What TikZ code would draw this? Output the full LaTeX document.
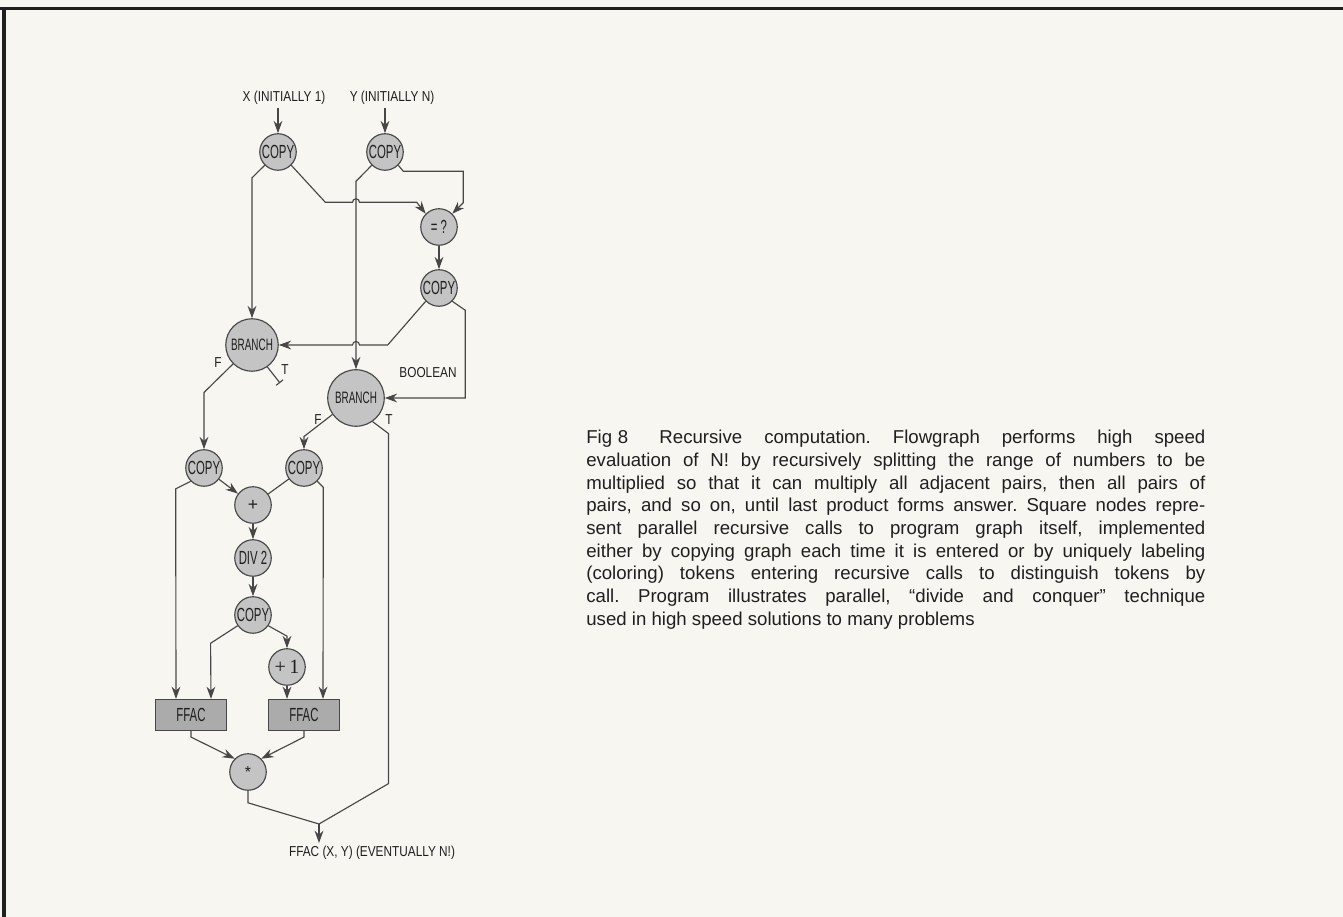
\documentclass[tikz,border=0pt]{standalone}
\usepackage{fontspec}
\setmainfont{Liberation Sans}
\newfontfamily\condfont[FakeStretch=0.6]{Liberation Sans}
\newfontfamily\lblfont[FakeStretch=0.82]{Liberation Sans}
\newfontfamily\serfont{Liberation Serif}
\usepackage{xcolor}
\usepackage{tikz}
\usetikzlibrary{calc,arrows.meta}
\definecolor{paper}{HTML}{F8F6F0}
\definecolor{ink}{HTML}{1F1F1F}
\definecolor{linegray}{HTML}{474747}
\definecolor{opfill}{HTML}{C4C4C4}
\definecolor{callfill}{HTML}{ABABAB}

\tikzset{
  opnode/.style={circle, fill=opfill, draw=linegray, line width=0.65pt, minimum size=7.3mm, inner sep=0pt, font=\condfont\fontsize{10.8}{12}\selectfont\color{ink}},
  branchnode/.style={opnode, font=\condfont\fontsize{9.4}{10}\selectfont\color{ink}},
  callbox/.style={rectangle, fill=callfill, draw=linegray, line width=0.65pt, minimum width=14.2mm, minimum height=6.2mm, inner sep=0pt, font=\condfont\fontsize{10.8}{12}\selectfont\color{ink}},
  tagtext/.style={font=\lblfont\fontsize{8.2}{10}\selectfont\color{ink}, inner sep=0.6mm},
  flow/.style={draw=linegray, line width=0.65pt, -{Stealth[length=7pt, width=5pt]}},
  plainline/.style={draw=linegray, line width=0.65pt},
}

\begin{document}
\begin{tikzpicture}

\useasboundingbox (0,0) rectangle (268.6mm,-183.4mm);
\fill[paper] (0,0) rectangle (268.6mm,-183.4mm);

% Frame
\draw[ink, line width=0.6mm] (0,-1.8mm) -- (268.6mm,-1.8mm);
\draw[ink, line width=0.6mm] (0.8mm,-1.5mm) -- (0.8mm,-183.4mm);

% Inputs
\node[tagtext] (labx) at (56.8mm, -19.6mm) {X (INITIALLY 1)};
\node[tagtext] (laby) at (78.4mm, -19.6mm) {Y (INITIALLY N)};

% Test part
\node[opnode] (copyx) at (55.6mm, -30.4mm) {COPY};
\node[opnode] (copyy) at (77.0mm, -30.4mm) {COPY};
\node[opnode] (eq) at (87.8mm, -45.4mm) {=\,?};
\node[opnode] (copyb) at (87.8mm, -57.6mm) {COPY};
\node[branchnode, minimum size=10.5mm] (branchx) at (50.4mm, -69.0mm) {BRANCH};
\node[branchnode, minimum size=11.3mm] (branchy) at (71.2mm, -79.6mm) {BRANCH};

% Split part
\node[opnode] (copyf) at (40.8mm, -93.6mm) {COPY};
\node[opnode] (copys) at (60.8mm, -93.6mm) {COPY};
\node[opnode, font=\fontsize{10}{12}\selectfont\color{ink}] (plus) at (50.6mm, -101.0mm) {+};
\node[opnode] (div) at (50.6mm, -111.6mm) {DIV 2};
\node[opnode] (copym) at (50.6mm, -123.0mm) {COPY};
\node[opnode, font=\serfont\fontsize{11.5}{12}\selectfont\color{ink}] (inc) at (57.4mm, -133.4mm) {+\,1};

% Recursive calls
\node[callbox] (ffacl) at (38.2mm, -143.0mm) {FFAC};
\node[callbox] (ffacr) at (60.8mm, -143.0mm) {FFAC};
\node[opnode, font=\fontsize{9}{10}\selectfont\color{ink}] (mult) at (49.6mm, -154.4mm) {*};

% Output
\coordinate (merge) at (63.8mm, -164.8mm);
\coordinate (tstop) at (56.0mm, -76.6mm);
\node[tagtext, anchor=north] (outlab) at (74.4mm, -168.6mm) {FFAC (X, Y) (EVENTUALLY N!)};

% Branch labels
\node[tagtext] at (43.6mm, -72.6mm) {F};
\node[tagtext] at (57.0mm, -74.0mm) {T};
\node[tagtext] at (63.6mm, -84.0mm) {F};
\node[tagtext] at (77.8mm, -84.0mm) {T};
\node[tagtext] at (85.6mm, -74.6mm) {BOOLEAN};

% Arrows
\draw[flow] (labx.south -| copyx) -- (copyx);
\draw[flow] (laby.south -| copyy) -- (copyy);
\draw[flow] (copyx.225) -- ([yshift=-2.5mm]copyx.225 -| branchx.north) -- (branchx.north);
\draw[flow] (copyx.-45) -- ++(6.8mm,-7.4mm) coordinate (hx) -- ([xshift=-0.7mm]hx -| branchy.north) arc[start angle=180, end angle=0, radius=0.7mm] -- ([xshift=-1.8mm]eq.135 |- hx) -- (eq.135);
\draw[flow] (copyy.225) -- ([yshift=-3.2mm]copyy.225 -| branchy.north) -- (branchy.north);
\draw[flow] (copyy.-45) -- ++(1mm,-1.2mm) -| ([xshift=2.2mm, yshift=2.2mm]eq.45) -- (eq.45);
\draw[flow] (eq) -- (copyb);
\draw[flow] (copyb.225) -- ([xshift=-7.6mm]copyb.225 |- branchx.east) -- ([xshift=0.7mm]branchy.north |- branchx.east) arc[start angle=0, end angle=180, radius=0.7mm] -- (branchx.east);
\draw[flow] (copyb.-45) -- ++(2.6mm,-1.8mm) |- (branchy.east);

% Branch outputs
\draw[plainline, -{Bar[width=5pt]}] (branchx.-55) -- (tstop);
\draw[flow] (branchx.225) -- ([yshift=-5.7mm]branchx.225 -| copyf.north) -- (copyf.north);
\draw[flow] (branchy.215) -- ([yshift=-4.4mm]branchy.215 -| copys.north) -- (copys.north);
\draw[plainline] (branchy.-55) -- ++(3.2mm,-2.4mm) -- ++(0,-70mm) -- (merge);

% Split arrows
\draw[flow] (copyf) -- (plus);
\draw[plainline] (copys) -- (plus);
\draw[flow] (plus) -- (div);
\draw[flow] (div) -- (copym);
\draw[flow] (copyf.225) -- ++(-3mm,-1.5mm) -- ([xshift=-3mm]ffacl.north);
\draw[flow] (copys.-45) -- ++(1.2mm,-1.2mm) -- ([xshift=3.8mm]ffacr.north);
\draw[flow] (copym.215) -- ++(-5.4mm,-3.5mm) -- ([xshift=4mm]ffacl.north);
\draw[flow] (copym.-35) -- ([yshift=2.4mm]inc.north) -- (inc.north);
\draw[flow] (inc) -- (inc.south |- ffacr.north);

% Product
\draw[flow] (ffacl.south) -- ++(0,-1.2mm) -- (mult.135);
\draw[flow] (ffacr.south) -- ++(0,-1.2mm) -- (mult.45);
\draw[plainline] (mult.south) -- ++(0,-2.4mm) -- (merge);
\draw[flow] (merge) -- (merge |- outlab.north);

% Caption
\node[anchor=north west, inner sep=0pt, text width=123.8mm, align=justify, font=\fontsize{10.6}{12.9}\selectfont\frenchspacing\color{ink}] (caption) at (117.2mm, -86.0mm) {Fig\kern0.3em 8\kern0.5em\ Recursive computation. Flowgraph performs high speed\linebreak evaluation of N! by recursively splitting the range of numbers to be\linebreak multiplied so that it can multiply all adjacent pairs, then all pairs of\linebreak pairs, and so on, until last product forms answer. Square nodes repre-\linebreak sent parallel recursive calls to program graph itself, implemented\linebreak either by copying graph each time it is entered or by uniquely labeling\linebreak (coloring) tokens entering recursive calls to distinguish tokens by\linebreak call. Program illustrates parallel, ``divide and conquer'' technique\linebreak used in high speed solutions to many problems};

\end{tikzpicture}
\end{document}
